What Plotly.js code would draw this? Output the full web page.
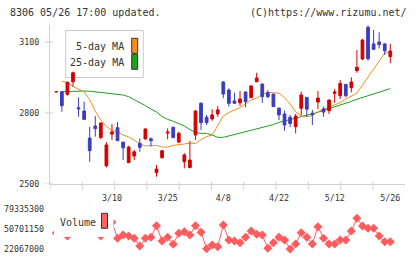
<!DOCTYPE html>
<html>
<head>
<meta charset="utf-8">
<script src="https://cdn.plot.ly/plotly-3.0.1.min.js"></script>
<style>
  html, body { margin: 0; padding: 0; background: #fff; }
  #chart { width: 420px; height: 259px; }
</style>
</head>
<body>
<div id="chart"></div>
<script>
// Trading days (M/D)
const dates = [
  '2/24','2/25','2/26','2/27',
  '3/2','3/3','3/4','3/5','3/6',
  '3/9','3/10','3/11','3/12','3/13',
  '3/16','3/17','3/18','3/19',
  '3/23','3/24','3/25','3/26','3/27',
  '3/30','3/31','4/1','4/2','4/3',
  '4/6','4/7','4/8','4/9','4/10',
  '4/13','4/14','4/15','4/16','4/17',
  '4/20','4/21','4/22','4/23','4/24',
  '4/27','4/28','4/30','5/1',
  '5/7','5/8','5/11','5/12','5/13','5/14','5/15',
  '5/18','5/19','5/20','5/21','5/22',
  '5/25','5/26'
];

const openP = [
  2889,2890,2879,2932,2822,2808,2694,2745,2696,2577,
  2711,2738,2677,2590,2618,2672,2690,2691,2549,2611,
  2715,2740,2677,2594,2570,2707,2841,2782,2775,2796,
  2931,2897,2851,2843,2889,2866,2932,2922,2886,2880,
  2820,2796,2782,2742,2820,2866,2799,2846,2817,2810,
  2883,2873,2921,2907,2979,3028,3162,3092,3100,3092,
  3038
];
const highP = [
  2891,2893,2932,2975,2866,2848,2742,2787,2758,2677,
  2753,2762,2677,2661,2644,2693,2737,2697,2580,2641,
  2735,2740,2721,2630,2682,2813,2845,2792,2816,2830,
  2935,2904,2886,2893,2889,2918,2970,2925,2897,2880,
  2824,2810,2792,2796,2890,2866,2813,2893,2827,2855,
  2901,2939,2921,2951,3066,3113,3170,3151,3141,3094,
  3092
];
const lowP = [
  2889,2805,2873,2911,2784,2773,2594,2700,2691,2570,
  2686,2683,2601,2590,2601,2636,2689,2658,2531,2608,
  2689,2696,2674,2566,2566,2686,2728,2749,2767,2784,
  2862,2827,2841,2830,2824,2862,2932,2843,2862,2827,
  2770,2725,2740,2714,2792,2784,2749,2816,2784,2796,
  2843,2859,2866,2887,2970,3024,3021,3069,3073,3045,
  3010
];
const closeP = [
  2890,2831,2930,2970,2818,2773,2641,2734,2758,2665,
  2720,2683,2653,2656,2636,2655,2732,2683,2563,2641,
  2719,2696,2714,2623,2601,2808,2759,2759,2792,2813,
  2880,2841,2841,2859,2848,2914,2948,2869,2869,2827,
  2792,2749,2756,2787,2876,2816,2793,2863,2804,2855,
  2889,2925,2873,2931,2993,3108,3029,3069,3089,3063,
  3062
];

// Moving averages
const ma5 = [
  null,2934,2929,2912,2899,2889,2857,2808,2770,2743,
  2726,2720,2707,2699,2685,2669,2661,2661,2663,2656,
  2656,2663,2665,2669,2673,2671,2688,2700,2707,2745,
  2787,2802,2811,2823,2838,2855,2863,2878,2887,2887,
  2884,2865,2838,2804,2789,2785,2789,2806,2817,2825,
  2834,2844,2859,2872,2884,2918,2952,2986,3024,3053,
  3059
];
const ma25 = [
  null,2890,2891,2893,2893,2893,2892,2889,2886,2884,
  2882,2879,2876,2869,2857,2844,2831,2817,2804,2785,
  2773,2765,2755,2745,2730,2718,2714,2714,2707,2697,
  2697,2703,2709,2714,2720,2725,2732,2739,2745,2751,
  2760,2766,2770,2777,2783,2789,2796,2803,2811,2818,
  2825,2834,2841,2849,2858,2865,2872,2879,2887,2895,
  2903
];

// Daily volume
const volume = [
  45000000,48000000,40700000,52000000,50000000,58000000,79335300,55000000,40700000,62000000,
  60400000,37390000,42110000,40680000,37390000,26360000,37390000,38820000,55430000,33520000,
  38820000,28800000,44550000,46840000,42110000,55430000,45980000,22400000,27790000,25360000,
  56430000,34950000,33520000,31090000,38820000,47840000,43110000,42110000,23070000,31090000,
  38820000,34950000,22067000,29230000,45400000,38820000,29230000,53990000,37390000,29230000,
  29230000,34950000,34950000,47840000,66020000,54990000,51700000,51700000,40680000,32520000,
  32520000
];

const priceTicks = [2500, 2800, 3100];
const volumeTicks = [22067000, 50701150, 79335300];
const dateTicks = ['3/10', '3/25', '4/8', '4/22', '5/12', '5/26'];

// ---- layout helpers (pixel -> paper) ----
const W = 420, H = 259;
const M = { l: 50, r: 15, t: 25, b: 10 };
const PW = W - M.l - M.r, PH = H - M.t - M.b;
const px = x => (x - M.l) / PW;
const py = y => (H - M.b - y) / PH;

const MONO = 'DejaVu Sans Mono';
const AXIS = '#d0d0d0';
const TXT = '#333333';
const RED = '#d40000', BLUE = '#3c3cbe';
const VOL = '#ff5c60';

const xRange = [-1.132, 62.64];
const priceRange = [2500, 3171.8];

const traces = [
  { type: 'scatter', mode: 'lines', x: dates, y: ma25, xaxis: 'x', yaxis: 'y',
    line: { color: '#1ea01e', width: 1 }, hoverinfo: 'skip', connectgaps: false },
  { type: 'scatter', mode: 'lines', x: dates, y: ma5, xaxis: 'x', yaxis: 'y',
    line: { color: '#f0901e', width: 1 }, hoverinfo: 'skip', connectgaps: false },
  { type: 'candlestick', x: dates, open: openP, high: highP, low: lowP, close: closeP,
    xaxis: 'x', yaxis: 'y3', whiskerwidth: 0,
    increasing: { line: { color: RED, width: 1 }, fillcolor: RED },
    decreasing: { line: { color: BLUE, width: 1 }, fillcolor: BLUE },
    hoverinfo: 'skip' },
  { type: 'scatter', mode: 'lines+markers', x: dates, y: volume, xaxis: 'x2', yaxis: 'y2',
    line: { color: VOL, width: 1 }, marker: { symbol: 'diamond', size: 7, color: VOL },
    cliponaxis: false, hoverinfo: 'skip' }
];

// tick marks crossing the axes
const shapes = [];
for (let k = 0; k <= 11; k++) {
  const xv = xRange[0] + 5.802 * k;
  shapes.push({ type: 'line', xref: 'x', yref: 'paper', x0: xv, x1: xv,
    y0: py(181.7), y1: py(190), line: { color: AXIS, width: 1 } });
}
priceTicks.forEach(v => shapes.push({ type: 'line', xref: 'paper', yref: 'y',
  x0: px(45), x1: px(53.3), y0: v, y1: v, line: { color: AXIS, width: 1 } }));

// price legend box
shapes.push({ type: 'rect', xref: 'paper', yref: 'paper', layer: 'below',
  x0: px(65.7), x1: px(143.3), y0: py(77.5), y1: py(30.5),
  fillcolor: '#ffffff', line: { color: '#cccccc', width: 1 } });
shapes.push({ type: 'rect', xref: 'paper', yref: 'paper', layer: 'below',
  x0: px(131.7), x1: px(137.7), y0: py(53.3), y1: py(38.3),
  fillcolor: '#f0901e', line: { color: '#333333', width: 1 } });
shapes.push({ type: 'rect', xref: 'paper', yref: 'paper', layer: 'below',
  x0: px(131.7), x1: px(137.7), y0: py(69.3), y1: py(54.3),
  fillcolor: '#1ea01e', line: { color: '#333333', width: 1 } });

// volume legend
shapes.push({ type: 'rect', xref: 'paper', yref: 'paper', layer: 'above',
  x0: px(54), x1: px(113.5), y0: py(237), y1: py(205),
  fillcolor: '#ffffff', line: { width: 0 } });
shapes.push({ type: 'rect', xref: 'paper', yref: 'paper', layer: 'above',
  x0: px(101.5), x1: px(107.5), y0: py(228.3), y1: py(213.3),
  fillcolor: '#ff6060', line: { color: '#333333', width: 1 } });

const annotations = [
  { text: '8306 05/26 17:00 updated.', x: px(8), y: py(13), xanchor: 'left', yanchor: 'middle' },
  { text: '(C)https://www.rizumu.net/', x: px(408.5), y: py(13), xanchor: 'right', yanchor: 'middle' },
  { text: '5-day MA', x: px(125.5), y: py(46), xanchor: 'right', yanchor: 'middle' },
  { text: '25-day MA', x: px(125.5), y: py(63), xanchor: 'right', yanchor: 'middle' },
  { text: 'Volume', x: px(58), y: py(222), xanchor: 'left', yanchor: 'middle' }
].map(a => Object.assign({ xref: 'paper', yref: 'paper', showarrow: false,
  font: { family: MONO, size: 10, color: TXT } }, a));

const mainDomain = [py(184), 1];
const volDomain = [0, py(209)];

const layout = {
  width: W, height: H,
  margin: M,
  paper_bgcolor: '#ffffff', plot_bgcolor: '#ffffff',
  showlegend: false,
  boxgap: 0.3,
  font: { family: MONO, size: 8.3, color: TXT },
  xaxis: {
    type: 'category', range: xRange, domain: [0, 1], anchor: 'y',
    rangeslider: { visible: false },
    showgrid: false, zeroline: false,
    showline: true, linecolor: AXIS, linewidth: 1,
    ticks: '', tickmode: 'array', tickvals: dateTicks, ticktext: dateTicks,
    tickfont: { family: MONO, size: 8.3, color: TXT }, ticklabelstandoff: 6,
    fixedrange: true
  },
  yaxis: {
    domain: mainDomain, range: priceRange, anchor: 'x',
    showgrid: false, zeroline: false,
    showline: true, linecolor: AXIS, linewidth: 1,
    ticks: '', tickmode: 'array', tickvals: priceTicks,
    tickfont: { family: MONO, size: 8.3, color: TXT }, ticklabelstandoff: 8,
    fixedrange: true
  },
  yaxis3: {
    overlaying: 'y', range: priceRange, anchor: 'x',
    showgrid: false, zeroline: false, showline: false,
    showticklabels: false, ticks: '', fixedrange: true
  },
  xaxis2: {
    type: 'category', range: xRange, domain: [0, 1], anchor: 'y2', matches: 'x',
    showgrid: false, zeroline: false, showline: false,
    showticklabels: false, ticks: '', fixedrange: true
  },
  yaxis2: {
    domain: volDomain, range: [volumeTicks[0], volumeTicks[2]], anchor: 'x2',
    showgrid: false, zeroline: false, showline: false,
    ticks: '', tickmode: 'array', tickvals: volumeTicks,
    ticktext: volumeTicks.map(v => String(v)),
    tickfont: { family: MONO, size: 8.3, color: TXT }, ticklabelstandoff: 5,
    fixedrange: true
  },
  shapes: shapes,
  annotations: annotations
};

Plotly.newPlot('chart', traces, layout, { staticPlot: true, displayModeBar: false });
</script>
</body>
</html>
